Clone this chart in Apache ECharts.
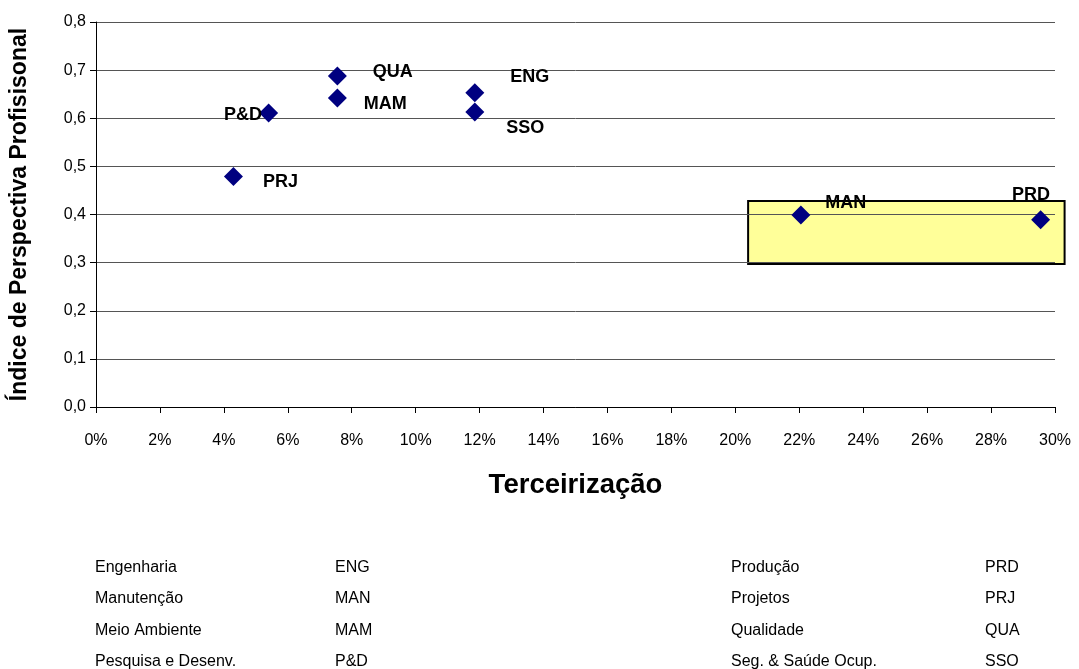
<!DOCTYPE html>
<html>
<head>
<meta charset="utf-8">
<script src="https://cdn.jsdelivr.net/npm/echarts@6/dist/echarts.min.js"></script>
<style>
html,body{margin:0;padding:0;background:#fff;}
#chart{width:1079px;height:669px;}
</style>
</head>
<body>
<div id="chart"></div>
<script>
// ---- data ----
const codes = ['ENG','MAN','MAM','P&D','PRD','PRJ','QUA','SSO'];
const terceirizacao = [11.85, 22.05, 7.55, 5.4, 29.55, 4.3, 7.55, 11.85];   // %
const indice = [0.653, 0.399, 0.642, 0.611, 0.389, 0.479, 0.688, 0.613];
const xTicks = [0,2,4,6,8,10,12,14,16,18,20,22,24,26,28,30];
const yTicks = [0,0.1,0.2,0.3,0.4,0.5,0.6,0.7,0.8];
const highlightX = [20.4, 30.3];
const highlightY = [0.297, 0.428];
const legendNamesLeft = ['Engenharia','Manutenção','Meio Ambiente','Pesquisa e Desenv.'];
const legendCodesLeft = ['ENG','MAN','MAM','P&D'];
const legendNamesRight = ['Produção','Projetos','Qualidade','Seg. & Saúde Ocup.'];
const legendCodesRight = ['PRD','PRJ','QUA','SSO'];

// ---- styles (label placement per code) ----
const labelStyle = {
  'ENG': {position:'right', offset:[21,-16]},
  'MAN': {position:'right', offset:[10,-12]},
  'MAM': {position:'right', offset:[12,6]},
  'P&D': {position:'left', offset:[8,2]},
  'PRD': {position:'left', offset:[24,-25]},
  'PRJ': {position:'right', offset:[15,6]},
  'QUA': {position:'right', offset:[21,-4]},
  'SSO': {position:'right', offset:[17,16]}
};

const font = 'Liberation Sans, Arial, sans-serif';
const chart = echarts.init(document.getElementById('chart'), null, {renderer:'canvas'});

const points = codes.map((c,i)=>({
  value:[terceirizacao[i], indice[i]],
  name:c,
  label:Object.assign({show:true, formatter:c}, labelStyle[c])
}));

const tableEls = [];
const rowY = [566, 597, 629, 660];
function addCol(arr, x){
  arr.forEach((t,i)=>tableEls.push({type:'text', left:x, top:rowY[i]-6,
    style:{text:t, font:'16px '+font, fill:'#000'}}));
}
addCol(legendNamesLeft, 95);
addCol(legendCodesLeft, 335);
addCol(legendNamesRight, 731);
addCol(legendCodesRight, 985);

chart.setOption({
  animation:false,
  backgroundColor:'#fff',
  grid:{left:96, right:24, top:22, bottom:262, outerBoundsMode:'none', containLabel:false},
  xAxis:{
    type:'value', min:0, max:30, interval:2,
    name:'Terceirização', nameLocation:'middle', nameGap:64,
    nameTextStyle:{fontFamily:font, fontSize:27.5, fontWeight:'bold', color:'#000'},
    axisLine:{show:true, onZero:false, lineStyle:{color:'#000', width:1}},
    axisTick:{show:true, length:6, lineStyle:{color:'#000'}},
    axisLabel:{fontFamily:font, fontSize:16, color:'#000', margin:26, formatter:v=>v+'%'},
    splitLine:{show:false}
  },
  yAxis:{
    type:'value', min:0, max:0.8, interval:0.1,
    name:'Índice de Perspectiva Profisisonal', nameLocation:'middle', nameGap:65,
    nameTextStyle:{fontFamily:font, fontSize:23, fontWeight:'bold', color:'#000'},
    axisLine:{show:true, lineStyle:{color:'#000', width:1}},
    axisTick:{show:true, length:6, lineStyle:{color:'#000'}},
    axisLabel:{fontFamily:font, fontSize:16, color:'#000', margin:10,
      formatter:v=>v.toFixed(1).replace('.',',')},
    splitLine:{show:true, lineStyle:{color:'#555', width:1}}
  },
  series:[{
    type:'scatter',
    symbol:'diamond',
    symbolSize:19,
    clip:false,
    itemStyle:{color:'#000080', opacity:1},
    label:{fontFamily:font, fontSize:18, fontWeight:'bold', color:'#000'},
    emphasis:{disabled:true},
    data:points,
    z:5
  }],
  graphic:tableEls
});

// highlight rectangle placed through the axis scales
const p0 = chart.convertToPixel({gridIndex:0}, [highlightX[0], highlightY[1]]);
const p1 = chart.convertToPixel({gridIndex:0}, [highlightX[1], highlightY[0]]);
chart.setOption({
  graphic:tableEls.concat([{
    type:'rect', z:-1, silent:true,
    shape:{x:p0[0], y:p0[1], width:p1[0]-p0[0], height:p1[1]-p0[1]},
    style:{fill:'#FFFF99', stroke:'#000', lineWidth:2}
  }])
});
</script>
</body>
</html>
